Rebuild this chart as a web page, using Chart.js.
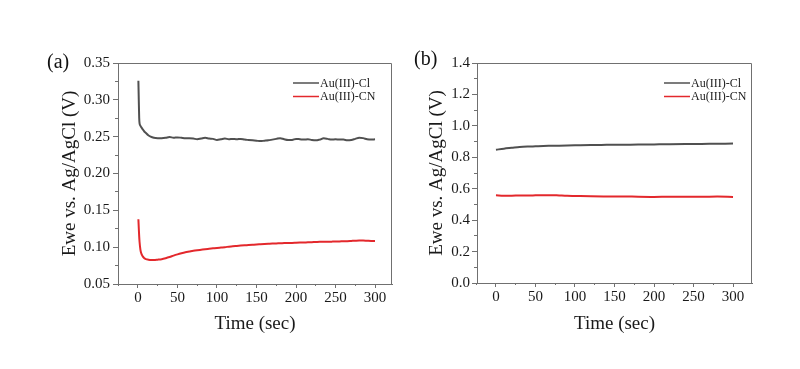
<!DOCTYPE html>
<html>
<head>
<meta charset="utf-8">
<script src="https://cdn.jsdelivr.net/npm/chart.js@4.4.1/dist/chart.umd.min.js"></script>
<style>
  html, body { margin: 0; padding: 0; background: #fff; }
  #wrap { position: relative; width: 800px; height: 369px; overflow: hidden; }
  .panel { position: absolute; top: 0; width: 400px; height: 369px; }
  .tag { position: absolute; font-family: 'Liberation Serif', 'Times New Roman', serif; font-size: 20px; line-height: 20px; color: #111; }
</style>
</head>
<body>
<div id="wrap">
  <div class="panel" style="left:0"><canvas id="chartA"></canvas></div>
  <div class="panel" style="left:400px"><canvas id="chartB"></canvas></div>
  <div class="tag" style="left:47px; top:51px">(a)</div>
  <div class="tag" style="left:414px; top:48px">(b)</div>
</div>
<script>
// ---- datos ----
const seriesLabels = ['Au(III)-Cl', 'Au(III)-CN'];

// panel (a)
const timeA = [0.5, 1, 1.5, 2, 3, 4, 6, 8, 10, 13, 16, 20,
  25, 30, 35, 40, 45, 50, 55, 60, 65, 70, 75, 80, 85, 90, 95, 100,
  105, 110, 115, 120, 125, 130, 135, 140, 145, 150, 155, 160, 165, 170, 175, 180,
  185, 190, 195, 200, 205, 210, 215, 220, 225, 230, 235, 240, 245, 250, 255, 260,
  265, 270, 275, 280, 285, 290, 295, 300];
const clA = [0.326, 0.300, 0.276, 0.268, 0.265, 0.263, 0.260, 0.257, 0.255, 0.252, 0.250, 0.2485,
  0.248, 0.248, 0.2485, 0.2495, 0.2485, 0.249, 0.2485, 0.248, 0.248, 0.2475, 0.2465, 0.2475, 0.2485, 0.2475, 0.247, 0.2455,
  0.2465, 0.2475, 0.2465, 0.247, 0.2465, 0.247, 0.246, 0.2455, 0.245, 0.2445, 0.244, 0.2445, 0.245, 0.246, 0.247, 0.248,
  0.2465, 0.2455, 0.2455, 0.247, 0.2465, 0.246, 0.2465, 0.2455, 0.245, 0.246, 0.2477, 0.247, 0.246, 0.2465, 0.246, 0.246,
  0.245, 0.2455, 0.247, 0.2485, 0.248, 0.2465, 0.246, 0.2465];
const cnA = [0.138, 0.126, 0.115, 0.107, 0.097, 0.092, 0.0875, 0.085, 0.0838, 0.083, 0.0825, 0.0825,
  0.083, 0.0837, 0.085, 0.0866, 0.0885, 0.0902, 0.0917, 0.093, 0.094, 0.095, 0.0958, 0.0965, 0.0972, 0.0978, 0.0984, 0.099,
  0.0995, 0.100, 0.1007, 0.1013, 0.1017, 0.1021, 0.1025, 0.1029, 0.1033, 0.1037, 0.104, 0.1043, 0.1046, 0.1049, 0.1051, 0.1053,
  0.1055, 0.1057, 0.1058, 0.106, 0.1062, 0.1064, 0.1066, 0.1068, 0.107, 0.1072, 0.1073, 0.1074, 0.1075, 0.1076, 0.1078, 0.108,
  0.1082, 0.1085, 0.1088, 0.109, 0.109, 0.1087, 0.1084, 0.1083];
const yTicksA = [0.05, 0.10, 0.15, 0.20, 0.25, 0.30, 0.35];
const yMinorA = [0.075, 0.125, 0.175, 0.225, 0.275, 0.325];

// panel (b)
const timeB = [0, 10, 20, 30, 40, 50, 60, 70, 80, 90, 100, 120, 140, 160, 180, 200, 220, 240, 260, 280, 300];
const clB = [0.848, 0.855, 0.860, 0.865, 0.868, 0.870, 0.872, 0.873, 0.874, 0.875, 0.876, 0.878, 0.879, 0.880, 0.881, 0.882, 0.883, 0.884, 0.885, 0.886, 0.887];
const cnB = [0.558, 0.556, 0.556, 0.557, 0.557, 0.558, 0.559, 0.559, 0.557, 0.555, 0.554, 0.552, 0.551, 0.551, 0.549, 0.548, 0.549, 0.549, 0.549, 0.550, 0.548];
const yTicksB = [0.0, 0.2, 0.4, 0.6, 0.8, 1.0, 1.2, 1.4];
const yMinorB = [0.1, 0.3, 0.5, 0.7, 0.9, 1.1, 1.3];

// eje x comun
const xTicks = [0, 50, 100, 150, 200, 250, 300];
const xMinor = [-25, 25, 75, 125, 175, 225, 275];

const lineColors = ['#505050', '#e3282c'];
const SERIF = "'Liberation Serif', 'Times New Roman', serif";
const AXIS = '#707070';
const INK = '#1a1a1a';

// marco superior y derecho del area
const framePlugin = {
  id: 'frame',
  afterDraw(chart) {
    const a = chart.chartArea, ctx = chart.ctx;
    ctx.save();
    ctx.strokeStyle = AXIS;
    ctx.lineWidth = 1;
    ctx.beginPath();
    ctx.moveTo(a.left, a.top + 0.5);
    ctx.lineTo(a.right - 0.5, a.top + 0.5);
    ctx.lineTo(a.right - 0.5, a.bottom);
    ctx.stroke();
    ctx.restore();
  }
};

// leyenda dentro del area
const insetLegend = {
  id: 'insetLegend',
  afterDraw(chart, args, opts) {
    const a = chart.chartArea, ctx = chart.ctx;
    ctx.save();
    ctx.font = '12px ' + SERIF;
    ctx.textBaseline = 'middle';
    chart.data.datasets.forEach((ds, i) => {
      const y = a.top + opts.top + i * opts.gap;
      const x0 = a.right - opts.right;
      ctx.strokeStyle = ds.borderColor;
      ctx.lineWidth = 1.5;
      ctx.beginPath();
      ctx.moveTo(x0, y);
      ctx.lineTo(x0 + 26, y);
      ctx.stroke();
      ctx.fillStyle = INK;
      ctx.fillText(ds.label, x0 + 27, y + 0.5);
    });
    ctx.restore();
  }
};

function fixTicks(list) {
  return (axis) => { axis.ticks = list.map(v => ({ value: v })); };
}

function buildPanel(id, cfg) {
  const datasets = cfg.series.map((vals, i) => ({
    label: seriesLabels[i],
    data: vals.map((v, k) => ({ x: cfg.time[k], y: v })),
    borderColor: lineColors[i],
    borderWidth: 2,
    pointRadius: 0,
    cubicInterpolationMode: 'monotone',
    fill: false
  }));

  return new Chart(document.getElementById(id), {
    type: 'line',
    data: { datasets },
    plugins: [framePlugin, insetLegend],
    options: {
      responsive: true,
      maintainAspectRatio: false,
      animation: false,
      layout: { padding: { left: 0, right: cfg.padRight, top: 63, bottom: 0 } },
      plugins: {
        legend: { display: false },
        tooltip: { enabled: false },
        insetLegend: { right: cfg.legendRight, top: 20, gap: 13.5 }
      },
      scales: {
        x: {
          type: 'linear', position: 'bottom', weight: 1,
          min: cfg.xMin, max: cfg.xMax,
          afterBuildTicks: fixTicks(xTicks),
          afterFit: (s) => { s.height = cfg.xHeight; },
          grid: { drawOnChartArea: false, drawTicks: true, tickLength: 4, tickColor: AXIS },
          border: { display: true, color: AXIS, width: 1 },
          ticks: { autoSkip: false, maxRotation: 0, padding: 1, color: INK, font: { family: SERIF, size: 15 } },
          title: { display: true, text: 'Time (sec)', color: INK, font: { family: SERIF, size: 19 }, padding: { top: 0, bottom: 33.6 } }
        },
        xMinor: {
          type: 'linear', position: 'bottom', weight: 0,
          min: cfg.xMin, max: cfg.xMax,
          afterBuildTicks: fixTicks(xMinor),
          afterFit: (s) => { s.height = 0; },
          grid: { drawOnChartArea: false, drawTicks: true, tickLength: 2, tickColor: AXIS },
          border: { display: false },
          ticks: { autoSkip: false, callback: () => '' }
        },
        y: {
          type: 'linear', position: 'left', weight: 1,
          min: cfg.yMin, max: cfg.yMax,
          afterBuildTicks: fixTicks(cfg.yTicks),
          afterFit: (s) => { s.width = cfg.areaLeft; },
          grid: { drawOnChartArea: false, drawTicks: true, tickLength: 5, tickColor: AXIS },
          border: { display: true, color: AXIS, width: 1 },
          ticks: { autoSkip: false, padding: cfg.yPad, color: INK, font: { family: SERIF, size: 15 },
                   callback: (v) => Number(v).toFixed(cfg.decimals) },
          title: { display: true, text: 'Ewe vs. Ag/AgCl (V)', color: INK, font: { family: SERIF, size: 19 },
                   padding: { top: cfg.titleX - 11.4, bottom: 0 } }
        },
        yMinor: {
          type: 'linear', position: 'left', weight: 0,
          min: cfg.yMin, max: cfg.yMax,
          afterBuildTicks: fixTicks(cfg.yMinor),
          afterFit: (s) => { s.width = 0; },
          grid: { drawOnChartArea: false, drawTicks: true, tickLength: 3, tickColor: AXIS },
          border: { display: false },
          ticks: { autoSkip: false, callback: () => '' }
        }
      }
    }
  });
}

buildPanel('chartA', {
  time: timeA, series: [clA, cnA],
  xMin: -25.3, xMax: 321.5, yMin: 0.05, yMax: 0.35,
  yTicks: yTicksA, yMinor: yMinorA, decimals: 2,
  areaLeft: 118, padRight: 8, xHeight: 85,
  titleX: 70, yPad: 3, legendRight: 99
});

buildPanel('chartB', {
  time: timeB, series: [clB, cnB],
  xMin: -24, xMax: 324, yMin: 0, yMax: 1.4,
  yTicks: yTicksB, yMinor: yMinorB, decimals: 1,
  areaLeft: 77, padRight: 48, xHeight: 86,
  titleX: 36.7, yPad: 2, legendRight: 88
});
</script>
</body>
</html>
